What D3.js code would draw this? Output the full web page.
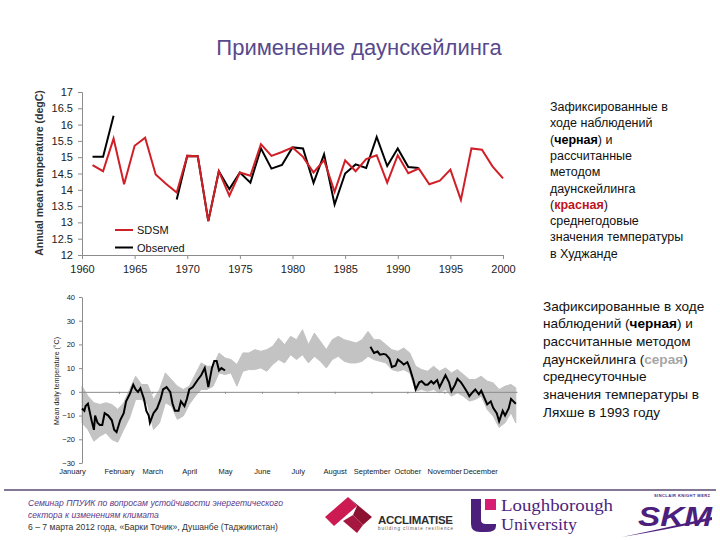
<!DOCTYPE html>
<html>
<head>
<meta charset="utf-8">
<script src="https://cdn.jsdelivr.net/npm/d3@7"></script>
<style>
body { margin: 0; background: #fff; }
svg { font-family: Arial, "Liberation Sans", sans-serif; }
.axis path, .axis line { stroke: #8c8c8c; }
.axis text { fill: #222; }
</style>
</head>
<body>
<div id="slide"></div>
<script>
// annual mean temperature, Khujand
var years = [1961,1962,1963,1964,1965,1966,1967,1968,1969,1970,
             1971,1972,1973,1974,1975,1976,1977,1978,1979,1980,
             1981,1982,1983,1984,1985,1986,1987,1988,1989,1990,
             1991,1992,1993,1994,1995,1996,1997,1998,1999,2000];
var sdsm = [14.76,14.57,15.57,14.17,15.35,15.6,14.47,14.18,13.92,15.04,
            15.03,13.04,14.57,13.82,14.53,14.43,15.4,15.04,15.16,15.3,
            15.01,14.53,14.91,13.94,14.9,14.57,14.94,15.06,14.22,15.06,
            14.51,14.65,14.17,14.28,14.62,13.69,15.27,15.23,14.72,14.35];
var observed = [15.01,15.01,16.27,null,null,null,null,null,13.7,15.04,
                15.03,13.04,14.57,14.02,14.53,14.22,15.27,14.65,14.76,15.3,
                15.27,14.21,15.09,13.55,14.5,14.78,14.67,15.62,14.73,15.27,
                14.7,14.67,null,null,null,null,null,null,null,null];
var yearTicks = [1960,1965,1970,1975,1980,1985,1990,1995,2000];
var tempTicks = [12,12.5,13,13.5,14,14.5,15,15.5,16,16.5,17];

// daily temperature, Lyakhsh 1993 (downscaled envelope + observed)
var bandDays = [0,5,10,15,20,25,30,35,40,45,50,55,60,65,70,75,80,85,90,95,
                100,105,110,115,120,125,130,135,140,145,150,155,160,165,170,175,
                180,185,190,195,200,205,210,215,220,225,230,235,240,245,250,255,
                260,265,270,275,280,285,290,295,300,305,310,315,320,325,330,335,
                340,345,350,355,360,364];
var bandHigh = [2.4,-1.8,-4.6,-5.3,-4.6,-5.3,-7.4,-4.6,1,6.6,3.1,3.1,-3.2,1,8,5.2,2.4,1,2.4,7.3,
                12.2,10.8,10.8,16.4,14.3,13.6,11.5,16.4,16.4,17.8,17.1,17.8,19.2,22.7,19.9,23.4,
                22,26.2,19.9,24.8,21.3,17.8,22,23.4,22,21.3,20.6,22,25.5,22,22,19.9,
                17.8,17.1,18.5,16.4,10.8,9.4,8.7,10.8,8.7,10.1,8,9.4,7.3,5.2,5.2,6.6,
                4.5,3.8,1,2.4,3.1,1.7];
var bandLow = [-13.1,-15.9,-20.8,-18.7,-17.3,-20.1,-21.2,-15.9,-10.9,-3.2,-3.2,-5.3,-15.9,-13.1,-4.6,-6,-11.6,-10.2,-5.3,-1.8,
               1,1,2.4,8,7.3,8,2.4,8.7,9.4,9.4,10.1,8.7,11.5,13.6,12.2,15.7,
               13.6,15.7,12.2,15,12.9,10.1,13.6,15,12.9,12.2,12.2,12.9,15,13.6,12.9,12.2,
               9.4,8.7,9.4,8,0.3,1,0.3,1,-0.4,1,-1.8,-0.4,-1.8,-3.9,-3.2,-1.8,
               -7.4,-10.2,-15,-13,-8.8,-13.1];
var obsSpringDays = [0,2,3,5,8,10,11,13,15,17,19,22,25,27,29,32,35,37,40,43,45,47,49,52,54,56,57,
                     60,63,66,68,71,74,76,78,81,83,86,88,90,93,97,100,103,105,106,109,111,113,115,117,120];
var obsSpringTemp = [-7,-8,-6,-5,-12,-16,-10,-13,-14,-14,-9,-10,-12,-16,-17,-12,-9,-4,-1,3,1,0,1.5,-3,-8,-10,-13,
                     -9,-7,-3,1,2,0,-5,-8,-8,-4,-6,-3,1,2,5,7,10,5,2,10,13,13,9,10,9];
var obsAutumnDays = [242,245,248,250,253,255,258,260,263,265,268,270,273,275,278,280,283,285,288,290,293,295,298,
                     300,303,305,308,310,313,315,318,320,323,325,328,330,333,335,338,340,343,345,348,350,353,355,358,360,362,364];
var obsAutumnTemp = [19,16.4,17,15.7,16,15.7,14,10.5,11,13.6,12.5,11.5,12.5,10,5,1,4,4.5,3,3,4.5,3.5,5,
                     2,5,7,4,0.3,3,5.5,4,2.5,0,-1.8,0,1,-1,0.5,-3,-5.3,-4,-6.7,-9,-12.4,-8,-10,-7,-3,-4,-5];
var monthNames = ["January","February","March","April","May","June","July","August","September","October","November","December"];
var monthStarts = [0,31,59,90,120,151,181,212,243,273,304,334];
var dailyTicks = [-30,-20,-10,0,10,20,30,40];

// side notes
var note1 = [
  [["Зафиксированные в"]],
  [["ходе наблюдений"]],
  [["("], ["черная", "#000"], [") и"]],
  [["рассчитанные"]],
  [["методом"]],
  [["даунскейлинга"]],
  [["("], ["красная", "#c0131b"], [")"]],
  [["среднегодовые"]],
  [["значения температуры"]],
  [["в Худжанде"]]
];
var note2 = [
  [["Зафиксированные в ходе"]],
  [["наблюдений ("], ["черная", "#000"], [") и"]],
  [["рассчитанные методом"]],
  [["даунскейлинга ("], ["серая", "#a6a6a6"], [")"]],
  [["среднесуточные"]],
  [["значения температуры в"]],
  [["Ляхше в 1993 году"]]
];

var svg = d3.select("#slide").append("svg")
    .attr("width", 720)
    .attr("height", 540);
svg.append("rect").attr("width", 720).attr("height", 540).attr("fill", "#fff");

// title
svg.append("text")
    .text("Применение даунскейлинга")
    .attr("x", 359).attr("y", 55)
    .attr("text-anchor", "middle")
    .style("font-size", "22px")
    .attr("fill", "#574a8c");

// ---------- top chart ----------
var x = d3.scaleLinear().domain([1960, 2000]).range([82, 503]);
var y = d3.scaleLinear().domain([12, 17]).range([255, 92]);

svg.append("g")
    .attr("class", "axis")
    .attr("transform", "translate(0,255)")
    .call(d3.axisBottom(x).tickValues(yearTicks).tickSize(4).tickPadding(6).tickFormat(d3.format("d")))
    .selectAll("text").style("font-size", "11px").style("font-family", "Arial");
svg.append("g")
    .attr("class", "axis")
    .attr("transform", "translate(82,0)")
    .call(d3.axisLeft(y).tickValues(tempTicks).tickSize(4).tickPadding(5).tickFormat(function(d) { return String(d); }))
    .selectAll("text").style("font-size", "11px").style("font-family", "Arial");
svg.selectAll(".axis .domain").attr("stroke", "#8c8c8c");

svg.append("text")
    .text("Annual mean temperature (degC)")
    .attr("transform", "translate(43,173) rotate(-90)")
    .attr("text-anchor", "middle")
    .style("font-size", "10.5px")
    .style("font-weight", "bold")
    .attr("fill", "#333");

var line = d3.line()
    .defined(function(d) { return d[1] != null; })
    .x(function(d) { return x(d[0]); })
    .y(function(d) { return y(d[1]); });

svg.append("path")
    .datum(years.map(function(yr, i) { return [yr, observed[i]]; }))
    .attr("d", line)
    .attr("fill", "none").attr("stroke", "#000").attr("stroke-width", 2);
svg.append("path")
    .datum(years.map(function(yr, i) { return [yr, sdsm[i]]; }))
    .attr("d", line)
    .attr("fill", "none").attr("stroke", "#d01f27").attr("stroke-width", 2);

// legend
var legend = [["SDSM", "#d01f27"], ["Observed", "#000"]];
legend.forEach(function(l, i) {
    svg.append("line")
        .attr("x1", 115).attr("x2", 133)
        .attr("y1", 230 + i * 17.5).attr("y2", 230 + i * 17.5)
        .attr("stroke", l[1]).attr("stroke-width", 2);
    svg.append("text")
        .text(l[0])
        .attr("x", 137).attr("y", 234 + i * 17.5)
        .style("font-size", "11px")
        .attr("fill", "#111");
});

// ---------- bottom chart ----------
var xB = d3.scaleLinear().domain([0, 365]).range([82, 517]);
var yB = d3.scaleLinear().domain([-30, 40]).range([463, 297]);

var band = d3.area()
    .x(function(d, i) { return xB(bandDays[i]); })
    .y0(function(d, i) { return yB(bandLow[i]); })
    .y1(function(d, i) { return yB(bandHigh[i]); });
svg.append("path")
    .datum(bandDays)
    .attr("d", band)
    .attr("fill", "#c3c3c3")
    .attr("stroke", "#c3c3c3")
    .attr("stroke-width", 1);

// zero line with month marks
svg.append("g")
    .attr("class", "axis")
    .attr("transform", "translate(0," + yB(0) + ")")
    .call(d3.axisBottom(xB).tickValues(monthStarts).tickSize(2).tickFormat("").tickSizeOuter(0));

svg.append("g")
    .attr("class", "axis")
    .attr("transform", "translate(82,0)")
    .call(d3.axisLeft(yB).tickValues(dailyTicks).tickSize(3).tickPadding(4).tickSizeOuter(0))
    .selectAll("text").style("font-size", "7.5px").style("font-family", "Arial");

var months = svg.append("g")
    .attr("class", "axis")
    .attr("transform", "translate(0,463)")
    .call(d3.axisBottom(xB).tickValues(monthStarts).tickSize(0).tickPadding(6)
        .tickFormat(function(d, i) { return monthNames[i]; }));
months.select(".domain").remove();
months.selectAll("text").style("font-size", "7.5px").style("font-family", "Arial");
months.select(".tick text").attr("dx", -10);

svg.append("text")
    .text("Mean daily temperature (°C)")
    .attr("transform", "translate(59,381) rotate(-90)")
    .attr("text-anchor", "middle")
    .style("font-size", "7px")
    .attr("fill", "#222");

var lineB = d3.line()
    .x(function(d) { return xB(d[0]); })
    .y(function(d) { return yB(d[1]); });
svg.append("path")
    .datum(obsSpringDays.map(function(d, i) { return [d, obsSpringTemp[i]]; }))
    .attr("d", lineB)
    .attr("fill", "none").attr("stroke", "#000").attr("stroke-width", 2);
svg.append("path")
    .datum(obsAutumnDays.map(function(d, i) { return [d, obsAutumnTemp[i]]; }))
    .attr("d", lineB)
    .attr("fill", "none").attr("stroke", "#000").attr("stroke-width", 2);

// ---------- side notes ----------
function richText(lines, x0, y0, lh, size) {
    lines.forEach(function(parts, i) {
        var t = svg.append("text")
            .attr("x", x0).attr("y", y0 + i * lh)
            .style("font-size", size + "px")
            .attr("fill", "#111");
        parts.forEach(function(p) {
            var s = t.append("tspan").text(p[0]);
            if (p[1]) s.style("font-weight", "bold").attr("fill", p[1]);
        });
    });
}
richText(note1, 550, 111, 16.3, 12.5);
richText(note2, 543, 310.5, 17.7, 13.6);

// ---------- footer ----------
svg.append("line")
    .attr("x1", 4).attr("x2", 716).attr("y1", 490).attr("y2", 490)
    .attr("stroke", "#5b4a72").attr("stroke-width", 1.5);
var footer = [["Семинар ППУИК по вопросам устойчивости энергетического", "#5a3a8a", "italic"],
              ["сектора к изменениям климата", "#5a3a8a", "italic"],
              ["6 – 7 марта 2012 года, «Барки Точик», Душанбе (Таджикистан)", "#333", "normal"]];
footer.forEach(function(f, i) {
    svg.append("text")
        .text(f[0])
        .attr("x", 28).attr("y", 506 + i * 12)
        .style("font-size", "8.6px")
        .style("font-style", f[2])
        .attr("fill", f[1]);
});

// logos
var logos = svg.append("g");
logos.append("polygon").attr("points", "325,517 348,497 357,506 334,526").attr("fill", "#cc1b52");
logos.append("polygon").attr("points", "348,497 372,517 363,525 353,515 357,506").attr("fill", "#8c1232");
logos.append("polygon").attr("points", "343,521 353,515 363,525 357,533").attr("fill", "#a5173e");
logos.append("text").text("ACCLIMATISE")
    .attr("x", 378).attr("y", 524)
    .style("font-size", "11.5px").style("font-weight", "bold")
    .attr("textLength", 75).attr("fill", "#2e2e2e");
logos.append("text").text("building climate resilience")
    .attr("x", 378).attr("y", 530)
    .style("font-size", "4.5px").attr("textLength", 75).attr("fill", "#555");

logos.append("path")
    .attr("d", "M471,499 H481 V520 Q481,524 486,524 H496 V526 Q496,532 486,532 H480 Q471,532 471,524 Z")
    .attr("fill", "#4d1f7c");
logos.append("rect").attr("x", 485).attr("y", 499).attr("width", 11).attr("height", 11).attr("fill", "#d51e74");
logos.append("text").text("Loughborough")
    .attr("x", 501).attr("y", 511)
    .style("font-family", "'Liberation Serif', 'DejaVu Serif', serif")
    .style("font-size", "16px").attr("textLength", 112).attr("lengthAdjust", "spacingAndGlyphs")
    .attr("fill", "#4d1f7c");
logos.append("text").text("University")
    .attr("x", 501).attr("y", 530)
    .style("font-family", "'Liberation Serif', 'DejaVu Serif', serif")
    .style("font-size", "16px").attr("textLength", 76).attr("lengthAdjust", "spacingAndGlyphs")
    .attr("fill", "#4d1f7c");

logos.append("text").text("SINCLAIR KNIGHT MERZ")
    .attr("x", 654).attr("y", 497)
    .style("font-size", "4px").style("font-weight", "bold")
    .attr("textLength", 56).attr("fill", "#4d1f7c");
logos.append("text").text("SKM")
    .attr("x", 638).attr("y", 526)
    .style("font-size", "27px").style("font-weight", "900").style("font-style", "italic")
    .attr("textLength", 74).attr("lengthAdjust", "spacingAndGlyphs")
    .attr("fill", "#4d1f7c");
logos.append("path")
    .attr("d", "M622,537 Q670,527 712,517 L712,520 Q670,529 622,537 Z")
    .attr("fill", "#4d1f7c");
</script>
</body>
</html>
